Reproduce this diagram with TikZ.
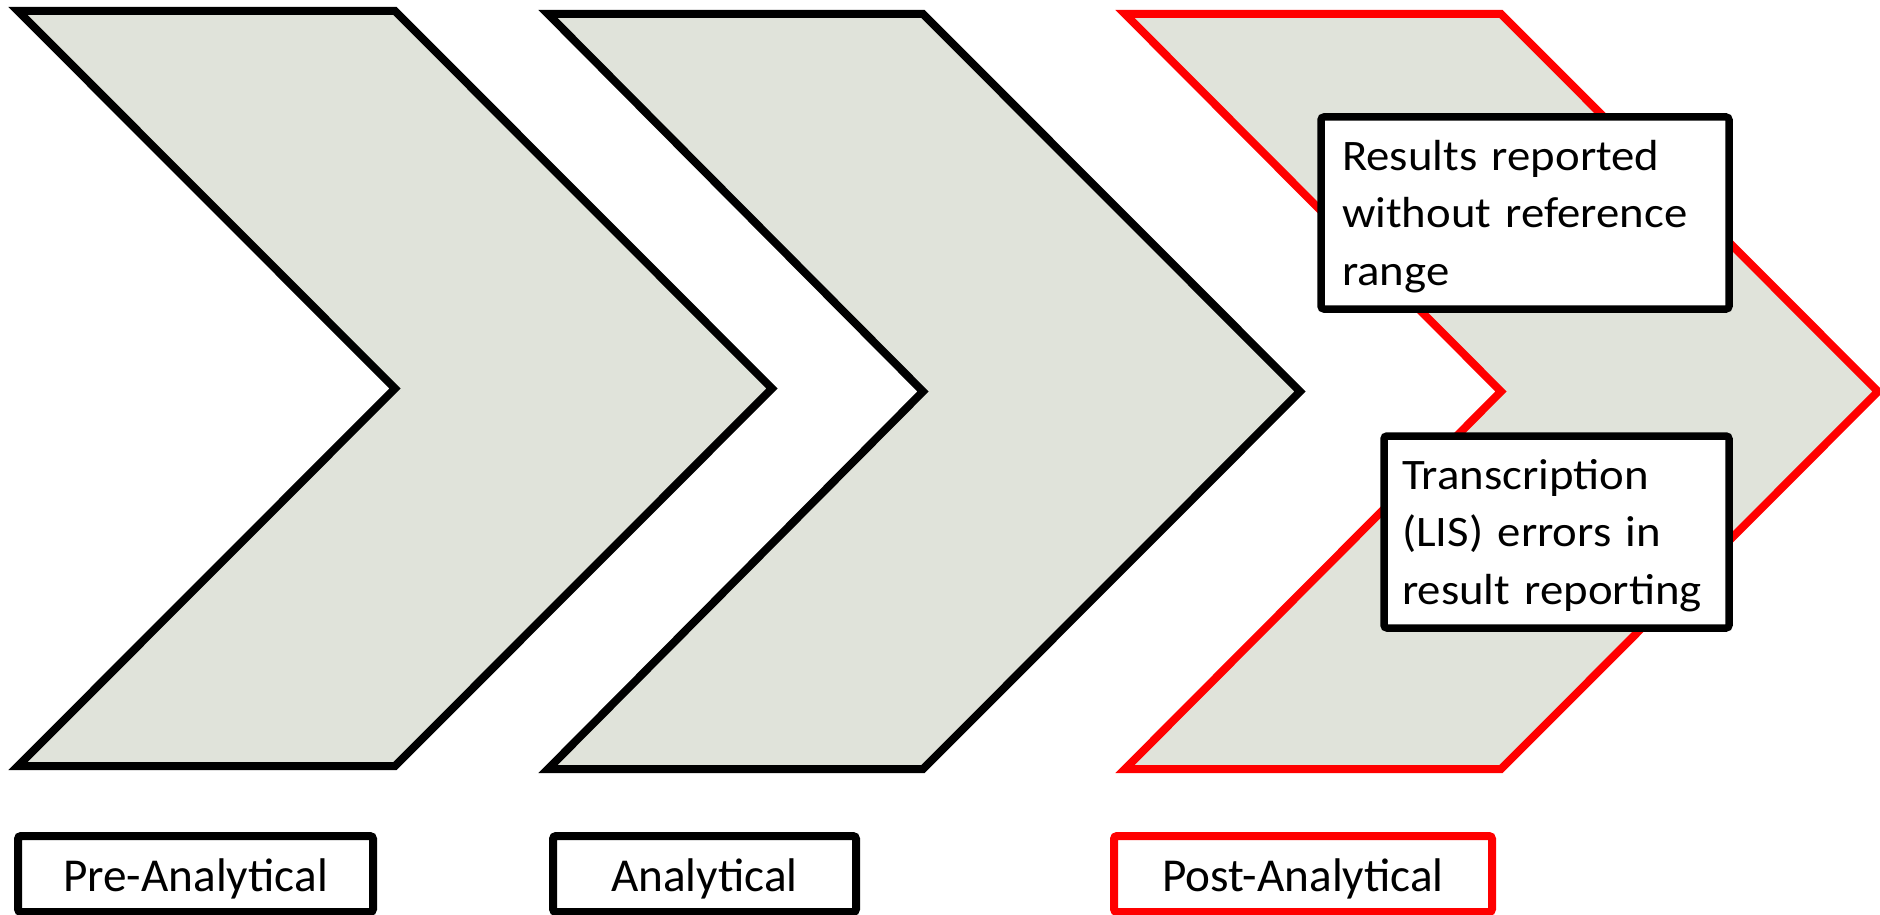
\documentclass[tikz,border=0pt]{standalone}
\usepackage{fontspec}
\setmainfont{Carlito}
% slightly wide cut of the same face for the note boxes
\newfontfamily\notefont[FakeStretch=1.075]{Carlito}
\definecolor{chevfill}{RGB}{224,227,218}
% struts that fix the first-line height and last-line depth of the note boxes
\newcommand{\tallstrut}{\rule{0pt}{19.5pt}}
\newcommand{\deepstrut}{\rule[-5pt]{0pt}{5pt}}
\begin{document}
\begin{tikzpicture}[x=0.5pt,y=-0.5pt,
  chev/.style={fill=chevfill, draw=black, line width=4pt, line join=miter, miter limit=10},
  note/.style={draw=black, fill=white, line width=3.75pt, rounded corners=1.5pt,
    align=left, inner sep=0pt, font=\notefont\fontsize{21.75pt}{28.75pt}\selectfont},
  phase/.style={draw=black, fill=white, line width=4pt, rounded corners=1.5pt,
    inner sep=0pt, minimum height=38pt, text height=17pt, text depth=0pt,
    font=\fontsize{23.6pt}{28pt}\selectfont},
]
\useasboundingbox (0,0) rectangle (1880,915);
\clip (0,0) rectangle (1880,915);

% the three process chevrons
\draw[chev] (18,11) -- (395,11) -- (772,388.5) -- (395,766) -- (18,766) -- (395,388.5) -- cycle;
\draw[chev] (548,14) -- (923,14) -- (1300,391.5) -- (923,769) -- (548,769) -- (923,391.5) -- cycle;
\draw[chev, draw=red] (1125,14) -- (1501,14) -- (1878,391.5) -- (1501,769) -- (1125,769) -- (1501,391.5) -- cycle;

% error notes on the post-analytical chevron
\node[note, minimum width=204pt, minimum height=96pt, text width=183pt] (results) at (1525,213)
  {\tallstrut Results~reported\\without~reference\\range\deepstrut};
\node[note, minimum width=172.5pt, minimum height=96pt, text width=154.5pt] (transcription) at (1556.5,532)
  {\tallstrut Transcription\\(LIS)~errors~in\\result~reporting\deepstrut};

% phase labels
\node[phase, minimum width=177.5pt] (pre) at (195.5,874) {Pre-Analytical};
\node[phase, minimum width=151.5pt] (ana) at (704.5,874) {Analytical};
\node[phase, draw=red, minimum width=189pt] (post) at (1303,874) {Post-Analytical};
\end{tikzpicture}
\end{document}
